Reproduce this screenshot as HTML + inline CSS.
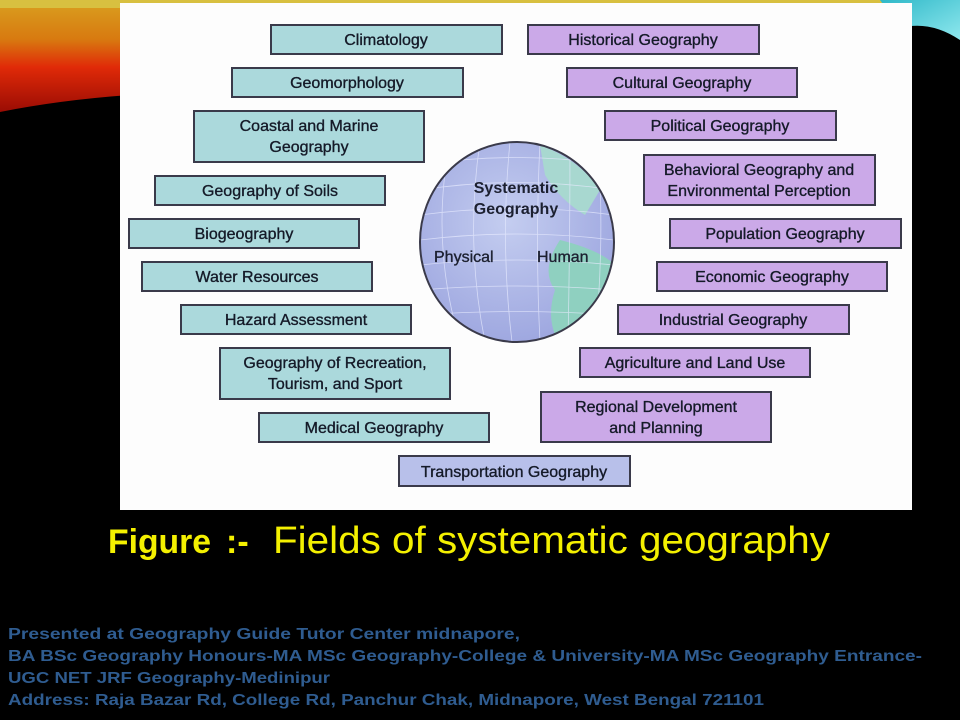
<!DOCTYPE html>
<html><head><meta charset="utf-8"><style>
html,body{margin:0;padding:0;background:#000;width:960px;height:720px;overflow:hidden}
</style></head><body>
<svg width="960" height="720" viewBox="0 0 960 720" xmlns="http://www.w3.org/2000/svg" font-family="Liberation Sans, sans-serif">
<defs>
<linearGradient id="fire" x1="0" y1="0" x2="0" y2="1">
<stop offset="0" stop-color="#d9a020"/><stop offset="0.35" stop-color="#d87a10"/><stop offset="0.6" stop-color="#e02a08"/><stop offset="1" stop-color="#9a0c04"/>
</linearGradient>
<linearGradient id="cyan" x1="0" y1="0" x2="1" y2="1">
<stop offset="0" stop-color="#2fb8c8"/><stop offset="1" stop-color="#8fe8ee"/>
</linearGradient>
<radialGradient id="globe" cx="0.45" cy="0.4" r="0.6">
<stop offset="0" stop-color="#c4cdf0"/><stop offset="1" stop-color="#9fa8e0"/>
</radialGradient>
<clipPath id="gc"><ellipse cx="517" cy="242" rx="97" ry="100"/></clipPath>
</defs>
<rect width="960" height="720" fill="#000"/>
<path d="M0 0 H130 V95 Q60 100 0 112 Z" fill="url(#fire)"/>
<path d="M0 0 H960 V8 H0Z" fill="#d8c040"/>
<path d="M880 0 H960 V40 Q930 20 900 28 Z" fill="url(#cyan)"/>
<rect x="120" y="3" width="792" height="507" fill="#fdfdfd"/>
<g stroke="#3a3a4a" stroke-width="2">
<g fill="#abd9dc">
<rect x="271" y="25" width="231" height="29"/>
<rect x="232" y="68" width="231" height="29"/>
<rect x="194" y="111" width="230" height="51"/>
<rect x="155" y="176" width="230" height="29"/>
<rect x="129" y="219" width="230" height="29"/>
<rect x="142" y="262" width="230" height="29"/>
<rect x="181" y="305" width="230" height="29"/>
<rect x="220" y="348" width="230" height="51"/>
<rect x="259" y="413" width="230" height="29"/>
</g>
<rect x="399" y="456" width="231" height="30" fill="#b8c0ea"/>
<g fill="#cba9e8">
<rect x="528" y="25" width="231" height="29"/>
<rect x="567" y="68" width="230" height="29"/>
<rect x="605" y="111" width="231" height="29"/>
<rect x="644" y="155" width="231" height="50"/>
<rect x="670" y="219" width="231" height="29"/>
<rect x="657" y="262" width="230" height="29"/>
<rect x="618" y="305" width="231" height="29"/>
<rect x="580" y="348" width="230" height="29"/>
<rect x="541" y="392" width="230" height="50"/>
</g>
</g>
<g font-size="16" fill="#151a28" text-anchor="middle" stroke="#151a28" stroke-width="0.35">
<text x="386" y="45">Climatology</text>
<text x="347" y="88">Geomorphology</text>
<text x="309" y="131">Coastal and Marine</text>
<text x="309" y="152">Geography</text>
<text x="270" y="196">Geography of Soils</text>
<text x="244" y="239">Biogeography</text>
<text x="257" y="282">Water Resources</text>
<text x="296" y="325">Hazard Assessment</text>
<text x="335" y="368">Geography of Recreation,</text>
<text x="335" y="389">Tourism, and Sport</text>
<text x="374" y="433">Medical Geography</text>
<text x="514" y="477">Transportation Geography</text>
<text x="643" y="45">Historical Geography</text>
<text x="682" y="88">Cultural Geography</text>
<text x="720" y="131">Political Geography</text>
<text x="759" y="175">Behavioral Geography and</text>
<text x="759" y="196">Environmental Perception</text>
<text x="785" y="239">Population Geography</text>
<text x="772" y="282">Economic Geography</text>
<text x="733" y="325">Industrial Geography</text>
<text x="695" y="368">Agriculture and Land Use</text>
<text x="656" y="412">Regional Development</text>
<text x="656" y="433">and Planning</text>
</g>
<ellipse cx="517" cy="242" rx="97" ry="100" fill="url(#globe)"/>
<g clip-path="url(#gc)">
<path d="M560 240 Q600 250 615 265 L612 300 Q590 330 560 345 Q545 320 555 290 Q540 270 560 240Z" fill="#8fd0c0"/>
<path d="M540 145 Q580 160 600 190 L585 215 Q560 200 545 175Z" fill="#a8d8d0"/>
<g stroke="#e8ecff" stroke-width="0.8" fill="none" opacity="0.7">
<path d="M420 190 Q517 175 614 190"/><path d="M420 215 Q517 202 614 215"/><path d="M420 240 Q517 228 614 240"/><path d="M420 265 Q517 255 614 265"/><path d="M420 290 Q517 282 614 290"/><path d="M420 315 Q517 308 614 315"/><path d="M420 165 Q517 150 614 165"/>
<path d="M450 142 Q430 242 460 342"/><path d="M480 142 Q465 242 485 342"/><path d="M510 142 Q500 242 512 342"/><path d="M540 142 Q535 242 540 342"/><path d="M570 142 Q570 242 568 342"/><path d="M598 142 Q605 242 595 342"/>
</g>
</g>
<ellipse cx="517" cy="242" rx="97" ry="100" fill="none" stroke="#3a3a4a" stroke-width="2"/>
<g font-size="16" font-weight="bold" fill="#1c2030" text-anchor="middle">
<text x="516" y="193">Systematic</text>
<text x="516" y="214">Geography</text>
</g>
<g font-size="16" fill="#1c2030" stroke="#1c2030" stroke-width="0.35">
<text x="434" y="262">Physical</text>
<text x="537" y="262">Human</text>
</g>
<text x="108" y="553" font-size="34" font-weight="bold" fill="#f4f000" textLength="103" lengthAdjust="spacingAndGlyphs">Figure</text>
<text x="226" y="553" font-size="34" font-weight="bold" fill="#f4f000">:-</text>
<text x="273" y="553" font-size="38" fill="#f4f000" textLength="557" lengthAdjust="spacingAndGlyphs">Fields of systematic geography</text>
<g font-size="16" font-weight="bold" fill="#2f5c90">
<text x="8" y="639" textLength="512" lengthAdjust="spacingAndGlyphs">Presented at Geography Guide Tutor Center midnapore,</text>
<text x="8" y="661" textLength="914" lengthAdjust="spacingAndGlyphs">BA BSc Geography Honours-MA MSc Geography-College &amp; University-MA MSc Geography Entrance-</text>
<text x="8" y="683" textLength="322" lengthAdjust="spacingAndGlyphs">UGC NET JRF Geography-Medinipur</text>
<text x="8" y="705" textLength="756" lengthAdjust="spacingAndGlyphs">Address: Raja Bazar Rd, College Rd, Panchur Chak, Midnapore, West Bengal 721101</text>
</g>
</svg>
</body></html>
